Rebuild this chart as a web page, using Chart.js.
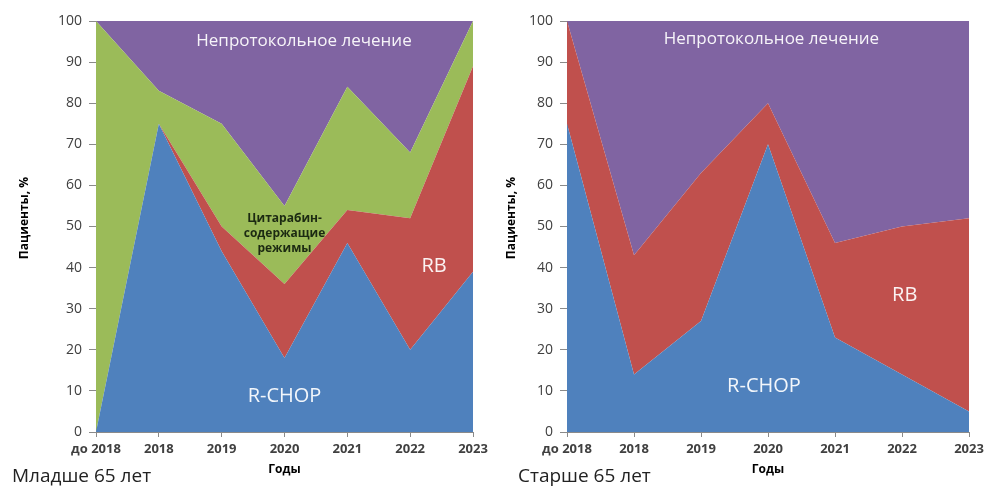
<!DOCTYPE html>
<html>
<head>
<meta charset="utf-8">
<script src="https://cdn.jsdelivr.net/npm/chart.js@4"></script>
<style>
  html, body { margin: 0; padding: 0; background: #fff; }
  #wrap { position: relative; width: 986px; height: 486px; overflow: hidden; }
  canvas { position: absolute; top: 0; }
  #youngChart { left: 0; }
  #oldChart { left: 490px; }
</style>
</head>
<body>
<div id="wrap">
  <canvas id="youngChart" width="490" height="486"></canvas>
  <canvas id="oldChart" width="496" height="486"></canvas>
</div>
<script>
const years = ['до 2018', '2018', '2019', '2020', '2021', '2022', '2023'];
const yTicks = [0, 10, 20, 30, 40, 50, 60, 70, 80, 90, 100];

// младше 65 лет, % пациентов
const youngRchop = [0, 75, 44, 18, 46, 20, 39];
const youngRb = [0, 0, 6, 18, 8, 32, 50];
const youngCytarabine = [100, 8, 25, 19, 30, 16, 11];
const youngOther = [0, 17, 25, 45, 16, 32, 0];

// старше 65 лет, % пациентов
const oldRchop = [75, 14, 27, 70, 23, 14, 5];
const oldRb = [25, 29, 36, 10, 23, 36, 47];
const oldOther = [0, 57, 37, 20, 54, 50, 48];

const FONT = "'Open Sans', 'DejaVu Sans', sans-serif";
const colors = { blue: '#4f81bd', red: '#c0504d', green: '#9bbb59', purple: '#8064a2' };

const area = (label, data, color, fill) => ({
  label, data, fill,
  backgroundColor: color,
  borderWidth: 0,
  pointRadius: 0,
  tension: 0
});

// labels placed in data coordinates (category index, %)
const textLabels = (chart, items) => {
  const ctx = chart.ctx;
  const xs = chart.scales.x, ys = chart.scales.y;
  ctx.save();
  ctx.textAlign = 'center';
  ctx.textBaseline = 'middle';
  items.forEach(it => {
    ctx.font = it.font;
    ctx.fillStyle = it.color;
    const px = xs.left + (xs.right - xs.left) * it.x / (years.length - 1);
    let py = ys.getPixelForValue(it.y);
    it.text.split('\n').forEach((line, i) => {
      ctx.fillText(line, px, py + i * (it.lineGap || 0));
    });
  });
  ctx.restore();
};

const decorPlugin = {
  id: 'decor',
  afterDatasetsDraw(chart, args, opts) {
    textLabels(chart, opts.labels);
  },
  afterDraw(chart, args, opts) {
    const ctx = chart.ctx;
    const ca = chart.chartArea;
    ctx.save();
    ctx.fillStyle = '#000';
    ctx.font = 'bold 12px ' + FONT;
    ctx.textAlign = 'center';
    ctx.textBaseline = 'middle';
    ctx.fillText('Годы', (ca.left + ca.right) / 2, 470);
    ctx.translate(opts.yTitleX, 218);
    ctx.rotate(-Math.PI / 2);
    ctx.fillText('Пациенты, %', 0, 0);
    ctx.restore();

    ctx.save();
    ctx.fillStyle = '#222';
    ctx.font = '19px ' + FONT;
    ctx.textAlign = 'left';
    ctx.textBaseline = 'middle';
    ctx.fillText(opts.subtitle, opts.subtitleX, 477);
    ctx.restore();
  }
};

function makeChart(id, datasets, yWidth, decor) {
  return new Chart(document.getElementById(id), {
    type: 'line',
    data: { labels: years, datasets },
    plugins: [decorPlugin],
    options: {
      responsive: false,
      animation: false,
      layout: { padding: { left: 0, top: 21, right: 17, bottom: 0 } },
      plugins: {
        legend: { display: false },
        tooltip: { enabled: false },
        decor
      },
      scales: {
        x: {
          offset: false,
          grid: { display: true, drawOnChartArea: false, tickLength: 5, color: '#8a8a8a' },
          border: { color: '#8a8a8a' },
          ticks: { color: '#404040', font: { family: FONT, size: 13, weight: 'bold' }, padding: 4, maxRotation: 0, autoSkip: false },
          afterFit: s => { s.height = 54; s.paddingLeft = 0; s.paddingRight = 0; }
        },
        y: {
          stacked: true,
          min: yTicks[0],
          max: yTicks[yTicks.length - 1],
          afterBuildTicks: s => { s.ticks = yTicks.map(v => ({ value: v })); },
          grid: { display: true, drawOnChartArea: false, tickLength: 7, color: '#8a8a8a' },
          border: { color: '#8a8a8a' },
          ticks: { color: '#404040', font: { family: FONT, size: 14 }, padding: 7 },
          afterFit: s => { s.width = yWidth; s.paddingTop = 0; s.paddingBottom = 0; }
        }
      }
    }
  });
}

const white = 'rgba(255,255,255,0.93)';

makeChart('youngChart', [
  area('R-CHOP', youngRchop, colors.blue, 'origin'),
  area('RB', youngRb, colors.red, '-1'),
  area('Цитарабин-содержащие режимы', youngCytarabine, colors.green, '-1'),
  area('Непротокольное лечение', youngOther, colors.purple, '-1')
], 96, {
  yTitleX: 25,
  subtitle: 'Младше 65 лет',
  subtitleX: 12,
  labels: [
    { text: 'Непротокольное лечение', x: 3.31, y: 95, font: '17px ' + FONT, color: white },
    { text: 'R-CHOP', x: 3.0, y: 8.8, font: '20px ' + FONT, color: white },
    { text: 'RB', x: 5.38, y: 40.4, font: '20px ' + FONT, color: white },
    { text: 'Цитарабин-\nсодержащие\nрежимы', x: 3.0, y: 52, font: 'bold 12px ' + FONT, color: '#1c2a12', lineGap: 15 }
  ]
});

makeChart('oldChart', [
  area('R-CHOP', oldRchop, colors.blue, 'origin'),
  area('RB', oldRb, colors.red, '-1'),
  area('Непротокольное лечение', oldOther, colors.purple, '-1')
], 77, {
  yTitleX: 22,
  subtitle: 'Старше 65 лет',
  subtitleX: 28,
  labels: [
    { text: 'Непротокольное лечение', x: 3.05, y: 95.5, font: '17px ' + FONT, color: white },
    { text: 'R-CHOP', x: 2.94, y: 11, font: '20px ' + FONT, color: white },
    { text: 'RB', x: 5.04, y: 33.3, font: '20px ' + FONT, color: white }
  ]
});
</script>
</body>
</html>
